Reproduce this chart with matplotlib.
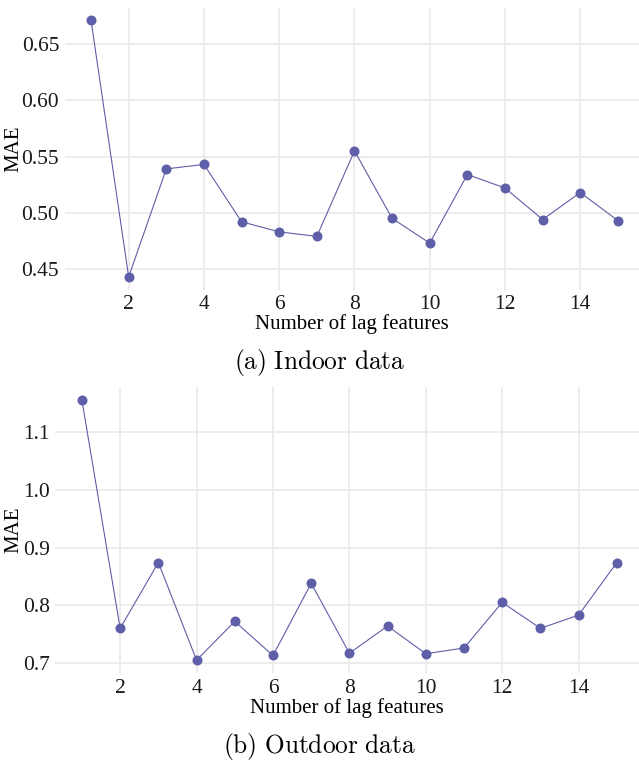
import matplotlib
matplotlib.use("Agg")
import matplotlib.pyplot as plt

# Data
lags = list(range(1, 16))
indoor_mae = [0.671, 0.443, 0.539, 0.543, 0.492, 0.483, 0.479, 0.555,
              0.495, 0.473, 0.534, 0.522, 0.494, 0.518, 0.493]
outdoor_mae = [1.155, 0.760, 0.874, 0.705, 0.772, 0.713, 0.838, 0.717,
               0.764, 0.716, 0.726, 0.805, 0.760, 0.783, 0.874]
indoor_yticks = [0.45, 0.50, 0.55, 0.60, 0.65]
outdoor_yticks = [0.7, 0.8, 0.9, 1.0, 1.1]
xticks = [2, 4, 6, 8, 10, 12, 14]

plt.rcParams['font.family'] = ['Liberation Serif', 'DejaVu Serif']
plt.rcParams['mathtext.fontset'] = 'cm'

color = '#5f5ea8'
W, H = 639, 765
fig = plt.figure(figsize=(W / 100, H / 100), dpi=100)


def panel(left, top, right, bottom, values, yticks, ylim, xlim, fmt):
    ax = fig.add_axes([left / W, 1 - bottom / H, (right - left) / W, (bottom - top) / H])
    ax.plot(lags, values, color=color, lw=0.8, marker='o', ms=7.2,
            markeredgewidth=0, zorder=3)
    ax.set_xlim(*xlim)
    ax.set_ylim(*ylim)
    ax.set_xticks(xticks)
    ax.set_yticks(yticks)
    ax.set_yticklabels([fmt.format(v) for v in yticks])
    ax.grid(True, color='#ebebeb', lw=1.3)
    ax.set_axisbelow(True)
    for s in ax.spines.values():
        s.set_visible(False)
    ax.tick_params(length=0, labelsize=15.5, colors='#1a1a1a', pad=4)
    ax.set_xlabel('Number of lag features', fontsize=15, labelpad=0)
    # y label placed in figure coordinates so it sits clear of the edge
    fig.text(14 / W, 1 - (top + bottom) / 2 / H, 'MAE', rotation=90,
             ha='center', va='center', fontsize=15)
    return ax


panel(64.7, 7.6, 639, 289.7, indoor_mae, indoor_yticks,
      (0.4316, 0.6824), (0.3, 15.56), '{:.2f}')
panel(55.2, 387.3, 639, 673.1, outdoor_mae, outdoor_yticks,
      (0.6825, 1.1775), (0.3, 15.58), '{:.1f}')

fig.text(320 / W, 1 - 363 / H, r'$\mathrm{(a)\ Indoor\ data}$', ha='center', va='center', fontsize=18.3)
fig.text(320 / W, 1 - 746 / H, r'$\mathrm{(b)\ Outdoor\ data}$', ha='center', va='center', fontsize=18.3)

fig.savefig('out.png', dpi=100)
